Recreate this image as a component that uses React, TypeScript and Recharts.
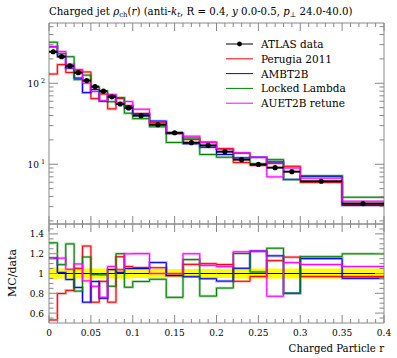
import React from 'react';
import { ComposedChart, Line, Scatter, XAxis, YAxis, ErrorBar, Area, ReferenceArea } from 'recharts';

// bin edges in r, 22 bins
const binEdges = [0, 0.01, 0.02, 0.03, 0.04, 0.05, 0.06, 0.07, 0.08, 0.09, 0.1, 0.12, 0.14, 0.16, 0.18, 0.2, 0.22, 0.24, 0.26, 0.28, 0.3, 0.35, 0.4];

const atlasData = [245, 213, 164, 135, 108, 91, 80, 68, 55.5, 49.6, 39.8, 30.8, 24.5, 18.5, 17.1, 14.3, 11.4, 9.95, 9.08, 8.1, 6.17, 3.27];
const atlasRelErr = [0.06, 0.05, 0.05, 0.05, 0.05, 0.05, 0.05, 0.05, 0.05, 0.05, 0.045, 0.045, 0.045, 0.045, 0.045, 0.045, 0.05, 0.05, 0.05, 0.05, 0.05, 0.05];

const perugia2011 = [130, 170, 136, 142, 138, 64.6, 73.6, 48.3, 64.9, 53.1, 42.2, 32.6, 24.0, 20.2, 18.8, 15.6, 10.5, 9.65, 10.26, 9.44, 5.98, 3.17];
const ambt2b = [283, 215, 154, 116, 76.7, 83.7, 60, 70.7, 56.1, 52.1, 41.8, 34.2, 24.0, 17.9, 16.2, 13.2, 12.0, 12.2, 10.7, 6.48, 7.1, 3.11];
const lockedLambda = [321, 232, 213, 111, 126, 90, 79, 59.2, 66.6, 42.7, 36.6, 29.0, 18.6, 21.1, 13.2, 12.2, 13.7, 10.1, 11.4, 6.48, 7.22, 3.92];
const auet2bRetune = [283, 246, 171, 148, 100, 79.2, 60.8, 72.8, 57.7, 59.5, 47.8, 30.8, 24.5, 22.2, 18.5, 15.3, 13.9, 12.2, 6.99, 8.99, 6.73, 3.5];

const xMajorTicks = [0, 0.05, 0.1, 0.15, 0.2, 0.25, 0.3, 0.35, 0.4];
const xTickLabels = ['0', '0.05', '0.1', '0.15', '0.2', '0.25', '0.3', '0.35', '0.4'];
const ratioMajorTicks = [0.6, 0.8, 1, 1.2, 1.4];
const ratioTickLabels = ['0.6', '0.8', '1', '1.2', '1.4'];
const logMajorTicks = [10, 100];
const logTickExp = ['1', '2'];

const mcSeries = [
  { key: 'perugia', name: 'Perugia 2011', color: '#ff0000', values: perugia2011 },
  { key: 'ambt2b', name: 'AMBT2B', color: '#0000ff', values: ambt2b },
  { key: 'locked', name: 'Locked Lambda', color: '#008000', values: lockedLambda },
  { key: 'auet2b', name: 'AUET2B retune', color: '#ff00ff', values: auet2bRetune },
];

const W = 397;
const PLOT_W = 335;
const MAIN_H = 201;
const RATIO_H = 99;
const LOG_DOMAIN: [number, number] = [1.83, 555];
const RATIO_DOMAIN: [number, number] = [0.5, 1.5];
const FONT = '"DejaVu Serif", serif';
const AXIS = '#888';

// axis tick positions (minor ones every 0.01 / 0.05 / 1-9 per decade)
const xTicks = Array.from({ length: 41 }, (_, i) => i / 100);
const ratioTicks = Array.from({ length: 19 }, (_, i) => (55 + i * 5) / 100);
const logTicks = [2, 3, 4, 5, 6, 7, 8, 9, 10, 20, 30, 40, 50, 60, 70, 80, 90, 100, 200, 300, 400, 500];

const mainRows = binEdges.map((x, i) => {
  const j = Math.min(i, atlasData.length - 1);
  const row: any = { x };
  mcSeries.forEach((s) => { row[s.key] = s.values[j]; });
  return row;
});

const ratioRows = binEdges.map((x, i) => {
  const j = Math.min(i, atlasData.length - 1);
  const row: any = { x, one: 1, band: [1 - atlasRelErr[j], 1 + atlasRelErr[j]] };
  mcSeries.forEach((s) => { row[s.key] = s.values[j] / atlasData[j]; });
  return row;
});

const points = atlasData.map((v, i) => ({
  x: (binEdges[i] + binEdges[i + 1]) / 2,
  y: v,
  xErr: (binEdges[i + 1] - binEdges[i]) / 2,
  yErr: v * atlasRelErr[i],
}));

const near = (a: number, b: number) => Math.abs(a - b) < 1e-6;

const makeXTick = (plotH: number, withLabels: boolean) => (props: any) => {
  const { x, y, payload } = props;
  const idx = xMajorTicks.findIndex((t) => near(t, payload.value));
  const len = idx >= 0 ? 8 : 4;
  return (
    <g>
      <line x1={x} x2={x} y1={y} y2={y - len} stroke={AXIS} />
      <line x1={x} x2={x} y1={y - plotH} y2={y - plotH + len} stroke={AXIS} />
      {withLabels && idx >= 0 && (
        <text x={x} y={y + 13} textAnchor="middle" fontSize={9} fontFamily={FONT} fill="#000">
          {xTickLabels[idx]}
        </text>
      )}
    </g>
  );
};

const logTick = (props: any) => {
  const { x, y, payload } = props;
  const idx = logMajorTicks.findIndex((t) => near(t, payload.value));
  const len = idx >= 0 ? 9 : 4.5;
  return (
    <g>
      <line x1={x} x2={x + len} y1={y} y2={y} stroke={AXIS} />
      <line x1={x + PLOT_W - len} x2={x + PLOT_W} y1={y} y2={y} stroke={AXIS} />
      {idx >= 0 && (
        <text x={x - 10} y={y + 3.5} textAnchor="end" fontSize={9} fontFamily={FONT} fill="#000">
          10
          <tspan x={x - 6} dy={-4} fontSize={6.5} textAnchor="middle">{logTickExp[idx]}</tspan>
        </text>
      )}
    </g>
  );
};

const ratioTick = (props: any) => {
  const { x, y, payload } = props;
  const idx = ratioMajorTicks.findIndex((t) => near(t, payload.value));
  const len = idx >= 0 ? 9 : 4.5;
  return (
    <g>
      <line x1={x} x2={x + len} y1={y} y2={y} stroke={AXIS} />
      <line x1={x + PLOT_W - len} x2={x + PLOT_W} y1={y} y2={y} stroke={AXIS} />
      {idx >= 0 && (
        <text x={x - 5} y={y + 3.5} textAnchor="end" fontSize={9} fontFamily={FONT} fill="#000">
          {ratioTickLabels[idx]}
        </text>
      )}
    </g>
  );
};

function mcLines() {
  const out: any[] = [];
  mcSeries.forEach((s) => {
    out.push(
      <Line key={s.key + '-band'} dataKey={s.key} type="stepAfter" stroke={s.color} strokeOpacity={0.35}
        strokeWidth={2.6} dot={false} activeDot={false} isAnimationActive={false} />
    );
  });
  mcSeries.forEach((s) => {
    out.push(
      <Line key={s.key} dataKey={s.key} type="stepAfter" stroke={s.color} strokeWidth={1}
        dot={false} activeDot={false} isAnimationActive={false} />
    );
  });
  return out;
}

const legendRows = [
  { name: 'ATLAS data', color: '#000', dot: true },
  ...mcSeries.map((s) => ({ name: s.name, color: s.color, dot: false })),
];

export default function App() {
  return (
    <div style={{ position: 'absolute', left: 0, top: 0, width: W, height: 358, background: '#fff' }}>
      <div style={{ position: 'absolute', left: 0, top: 0 }}>
        <ComposedChart width={W} height={230} data={mainRows} margin={{ top: 23, right: 13, left: 48, bottom: 5 }}>
          <XAxis dataKey="x" type="number" domain={[0, 0.4]} allowDataOverflow ticks={xTicks} interval={0}
            height={1} tickSize={0} tickMargin={0} tickLine={false} axisLine={false} tick={makeXTick(MAIN_H, false)} />
          <YAxis type="number" scale="log" domain={LOG_DOMAIN} allowDataOverflow ticks={logTicks} interval={0}
            width={1} tickSize={0} tickMargin={0} tickLine={false} axisLine={false} tick={logTick} />
          {mcLines()}
          <Scatter data={points} dataKey="y" fill="#000" isAnimationActive={false}
            shape={(p: any) => <circle cx={p.cx} cy={p.cy} r={2.6} fill="#000" />}>
            <ErrorBar dataKey="xErr" direction="x" width={0} stroke="#000" strokeWidth={2} />
            <ErrorBar dataKey="yErr" direction="y" width={0} stroke="#000" strokeWidth={1.2} />
          </Scatter>
          <ReferenceArea x1={0} x2={0.4} y1={LOG_DOMAIN[0]} y2={LOG_DOMAIN[1]} fill="none" stroke={AXIS} strokeWidth={1} />
        </ComposedChart>
      </div>
      <div style={{ position: 'absolute', left: 0, top: 214 }}>
        <ComposedChart width={W} height={144} data={ratioRows} margin={{ top: 10, right: 13, left: 48, bottom: 34 }}>
          <XAxis dataKey="x" type="number" domain={[0, 0.4]} allowDataOverflow ticks={xTicks} interval={0}
            height={1} tickSize={0} tickMargin={0} tickLine={false} axisLine={false} tick={makeXTick(RATIO_H, true)} />
          <YAxis type="number" domain={RATIO_DOMAIN} allowDataOverflow ticks={ratioTicks} interval={0}
            width={1} tickSize={0} tickMargin={0} tickLine={false} axisLine={false} tick={ratioTick} />
          <Area dataKey="band" type="stepAfter" fill="#ffff00" fillOpacity={1} stroke="none" isAnimationActive={false} />
          <Line dataKey="one" type="stepAfter" stroke="#000" strokeWidth={1} dot={false} activeDot={false} isAnimationActive={false} />
          {mcLines()}
          <ReferenceArea x1={0} x2={0.4} y1={RATIO_DOMAIN[0]} y2={RATIO_DOMAIN[1]} fill="none" stroke={AXIS} strokeWidth={1} />
        </ComposedChart>
      </div>
      <svg width={W} height={358} style={{ position: 'absolute', left: 0, top: 0, pointerEvents: 'none' }}
        fontFamily={FONT}>
        <text x={49} y={15} fontSize={10.2} fill="#000">
          Charged jet <tspan fontStyle="italic">ρ</tspan>
          <tspan fontSize={7} dy={2}>ch</tspan>
          <tspan dy={-2}>(</tspan>
          <tspan fontStyle="italic">r</tspan>
          <tspan>) (anti-</tspan>
          <tspan fontStyle="italic">k</tspan>
          <tspan fontSize={7} fontStyle="italic" dy={2}>t</tspan>
          <tspan dy={-2}>, R = 0.4, </tspan>
          <tspan fontStyle="italic">y</tspan>
          <tspan> 0.0-0.5, </tspan>
          <tspan fontStyle="italic">p</tspan>
          <tspan fontSize={7} dy={2}>⊥</tspan>
          <tspan dy={-2}> 24.0-40.0)</tspan>
        </text>
        {legendRows.map((r, i) => {
          const y = 44 + i * 14.8;
          return (
            <g key={r.name}>
              <line x1={226} x2={253} y1={y} y2={y} stroke={r.color} strokeWidth={1} />
              {r.dot && <circle cx={239.5} cy={y} r={2.4} fill="#000" />}
              <text x={261} y={y + 4} fontSize={10.5} fill="#000">{r.name}</text>
            </g>
          );
        })}
        <text x={384} y={352} textAnchor="end" fontSize={10.2} fill="#000">Charged Particle r</text>
        <text transform="translate(16,273) rotate(-90)" textAnchor="middle" fontSize={11} fill="#000">MC/data</text>
      </svg>
    </div>
  );
}
